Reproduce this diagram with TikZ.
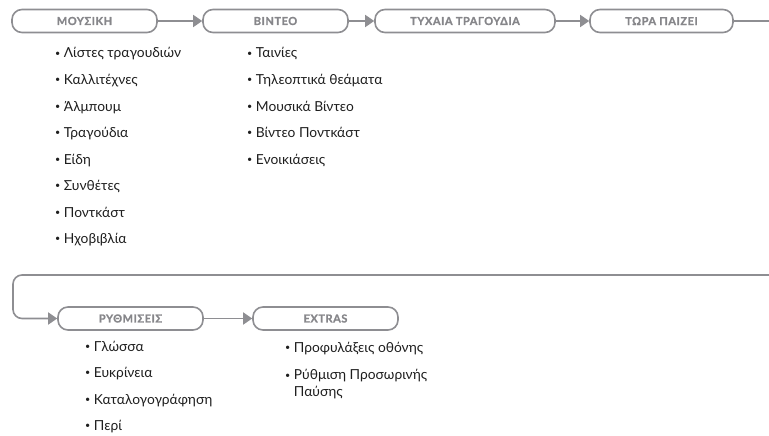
\documentclass[tikz,border=0pt]{standalone}
\usepackage{fontspec}
\setmainfont{Lato}
\newfontfamily\headfont{Lato}[LetterSpace=5, BoldFeatures={FakeBold=1.2}]
\usetikzlibrary{arrows.meta}
\definecolor{linegray}{HTML}{8E8E92}
\definecolor{headgray}{HTML}{86868A}
\definecolor{txtcol}{HTML}{1E1E1E}
\newcommand\bulmark{\raisebox{0.12em}{\fontsize{9}{9}\selectfont•}\hspace{3.5pt}}
\begin{document}
\begin{tikzpicture}[x=1pt,y=-1pt,
  menubox/.style={draw=linegray, line width=1.6pt, rounded corners=10pt,
    minimum height=23pt, inner sep=0pt,
    font=\headfont\fontsize{11}{12}\selectfont\bfseries, text=headgray},
  item/.style={anchor=west, inner sep=0pt, font=\fontsize{13.8}{17}\selectfont,
    text=txtcol, text height=9pt, text depth=3pt},
  conn/.style={draw=linegray, line width=1.6pt},
  arr/.style={conn, -{Triangle[length=9pt,width=12pt]}}]
\useasboundingbox (0,0) rectangle (769,436);
\clip (0,0) rectangle (769,436);

% row 1 boxes
\node[menubox, minimum width=145pt] (mus) at (84.5,21) {ΜΟΥΣΙΚΗ};
\node[menubox, minimum width=145pt] (vid) at (275.5,21) {ΒΙΝΤΕΟ};
\node[menubox, minimum width=180pt] (rnd) at (465,21) {ΤΥΧΑΙΑ ΤΡΑΓΟΥΔΙΑ};
\node[menubox, minimum width=143pt] (now) at (661.5,21) {ΤΩΡΑ ΠΑΙΖΕΙ};
% row 2 boxes
\node[menubox, minimum width=145pt] (set) at (130.5,318.5) {ΡΥΘΜΙΣΕΙΣ};
\node[menubox, minimum width=145pt] (ext) at (325.5,318.5) {EXTRAS};

\coordinate (wrapA) at (790,21);
\coordinate (wrapB) at (790,275);
\coordinate (wrapC) at (13,275);

\draw[arr] (mus.east) -- (vid.west);
\draw[arr] (vid.east) -- (rnd.west);
\draw[arr] (rnd.east) -- (now.west);
\draw[arr, rounded corners=9pt] (now.east) -- (wrapA) -- (wrapB) -- (wrapC) |- (set.west);
\draw[arr] (set.east) -- (ext.west);

% music list
\node[item] (m1) at (55,55) {\bulmark Λίστες τραγουδιών};
\node[item] (m2) at (55,81.5) {\bulmark Καλλιτέχνες};
\node[item] (m3) at (55,108) {\bulmark Άλμπουμ};
\node[item] (m4) at (55,134.5) {\bulmark Τραγούδια};
\node[item] (m5) at (55,161) {\bulmark Είδη};
\node[item] (m6) at (55,187.5) {\bulmark Συνθέτες};
\node[item] (m7) at (55,214) {\bulmark Ποντκάστ};
\node[item] (m8) at (55,240.5) {\bulmark Ηχοβιβλία};
% video list
\node[item] (v1) at (247,55) {\bulmark Ταινίες};
\node[item] (v2) at (247,81.5) {\bulmark Τηλεοπτικά θεάματα};
\node[item] (v3) at (247,108) {\bulmark Μουσικά Βίντεο};
\node[item] (v4) at (247,134.5) {\bulmark Βίντεο Ποντκάστ};
\node[item] (v5) at (247,161) {\bulmark Ενοικιάσεις};
% settings list
\node[item] (s1) at (85,348) {\bulmark Γλώσσα};
\node[item] (s2) at (85,374.5) {\bulmark Ευκρίνεια};
\node[item] (s3) at (85,401) {\bulmark Καταλογογράφηση};
\node[item] (s4) at (85,427.5) {\bulmark Περί};
% extras list
\node[item] (e1) at (285,349) {\bulmark Προφυλάξεις οθόνης};
\node[item, align=left, text height=, text depth=] (e2) at (285,384.5) {\bulmark Ρύθμιση Προσωρινής\\\hphantom{\bulmark}Παύσης};
\end{tikzpicture}
\end{document}
